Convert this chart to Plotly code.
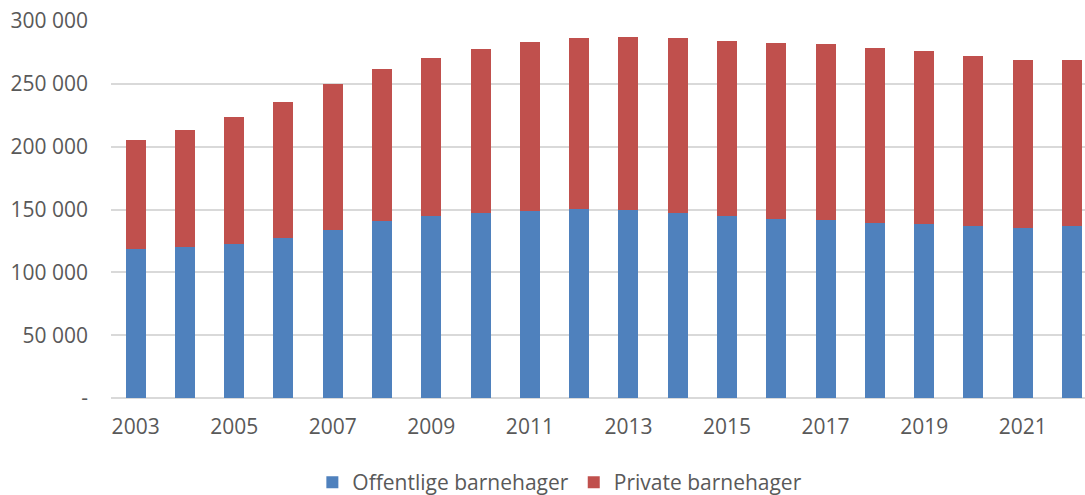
import plotly.graph_objects as go

years = [str(y) for y in range(2003, 2023)]
offentlige = [118600, 120200, 122800, 127600, 134000, 140900, 145100, 147300, 148900, 150500,
              149900, 147300, 145100, 142500, 141900, 139300, 138700, 137200, 135600, 137200]
totals = [205500, 213450, 223800, 235800, 250100, 262100, 270900, 278000, 283600, 286800,
          287600, 286800, 284400, 282800, 282000, 278800, 276500, 272500, 269300, 269300]
private = [t - o for t, o in zip(totals, offentlige)]

series_names = ["Offentlige barnehager", "Private barnehager"]
y_ticks = [0, 50000, 100000, 150000, 200000, 250000, 300000]
y_ticktext = ["-" if v == 0 else f"{v:,}".replace(",", " ") for v in y_ticks]
x_ticks = years[::2]

FONT = "Open Sans"
GRAY = "#595959"
FS = 21

fig = go.Figure()
fig.add_trace(go.Bar(x=years, y=offentlige, name=series_names[0], marker_color="#4F81BD",
                     marker_line_width=0, width=0.406))
fig.add_trace(go.Bar(x=years, y=private, name=series_names[1], marker_color="#C0504D",
                     marker_line_width=0, width=0.406))

fig.update_layout(
    barmode="stack",
    width=1085, height=495,
    margin=dict(l=111, r=0, t=21, b=97, autoexpand=False),
    paper_bgcolor="white", plot_bgcolor="white",
    font=dict(family=FONT, size=FS, color=GRAY),
    legend=dict(orientation="h", xref="container", yref="container",
                x=0.516, xanchor="center", y=0.025, yanchor="middle",
                font=dict(family=FONT, size=FS, color=GRAY), itemwidth=30,
                traceorder="normal"),
    xaxis=dict(type="category", range=[-0.5, 19.264], tickmode="array", tickvals=x_ticks,
               ticktext=x_ticks, showgrid=False, showline=False, ticks="",
               automargin=False,
               ticklabelstandoff=14, tickfont=dict(family=FONT, size=FS, color=GRAY)),
    yaxis=dict(range=[0, 300000], tickmode="array", tickvals=y_ticks, ticktext=y_ticktext,
               showgrid=True, gridcolor="#d9d9d9", gridwidth=1.5, zeroline=True,
               zerolinecolor="#d9d9d9", zerolinewidth=1.5, ticks="", automargin=False,
               ticklabelstandoff=22, tickfont=dict(family=FONT, size=FS, color=GRAY)),
)

fig.write_html(
    "out.html",
    config={"displayModeBar": False},
    post_script="document.body.style.margin='0';document.body.style.overflow='hidden';",
)
